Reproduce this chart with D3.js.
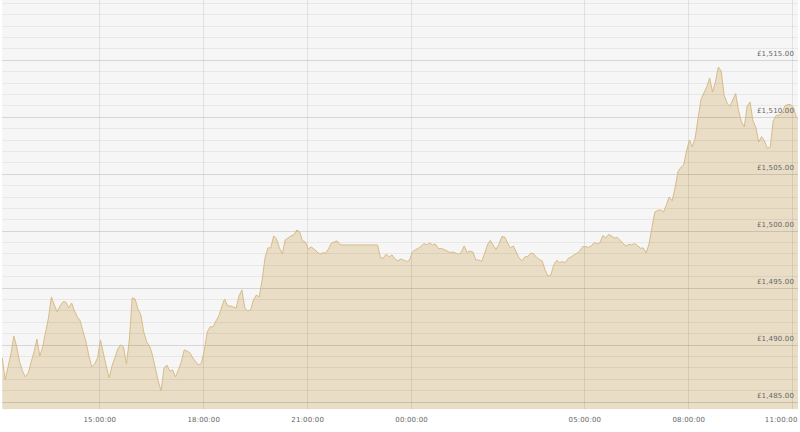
<!DOCTYPE html>
<html><head><meta charset="utf-8">
<script src="https://cdn.jsdelivr.net/npm/d3@7"></script>
<style>
body{margin:0;background:#fff}
svg{display:block}
text{font-family:"DejaVu Sans",Verdana,sans-serif;font-size:7px;fill:#666;letter-spacing:0.15px}
</style></head><body>
<svg id="chart" width="800" height="432"></svg>
<script>
// ---- data ----
const startTime = "2024-01-01T12:12:00";
const stepMinutes = 5;
const prices = [
1488.84,1486.91,1488.05,1489.19,1490.77,1489.80,1488.49,1487.70,1487.17,1487.52,
1488.49,1489.36,1490.50,1489.01,1489.80,1491.12,1492.35,1494.19,1493.49,1492.87,
1493.40,1493.75,1493.75,1493.22,1493.66,1492.96,1492.43,1492.08,1491.12,1490.24,
1489.01,1488.05,1488.31,1488.84,1490.42,1489.27,1488.13,1487.08,1488.13,1488.84,
1489.63,1489.98,1489.80,1488.31,1490.42,1494.10,1494.01,1493.13,1492.61,1491.12,
1490.24,1489.89,1489.10,1487.96,1486.82,1485.94,1487.96,1488.22,1487.70,1487.78,
1487.17,1487.78,1488.49,1489.54,1489.45,1489.27,1488.84,1488.49,1488.22,1488.40,
1489.54,1491.12,1491.56,1491.56,1492.08,1492.52,1493.31,1494.01,1493.40,1493.40,
1493.31,1493.22,1494.27,1494.80,1493.22,1492.96,1493.05,1493.92,1494.36,1494.19,
1495.68,1497.61,1498.49,1498.49,1499.54,1499.27,1498.49,1497.96,1499.19,1499.36,
1499.54,1499.63,1500.06,1499.89,1499.10,1499.01,1498.40,1498.57,1498.40,1498.13,
1497.96,1498.05,1498.05,1498.40,1498.92,1499.01,1499.10,1498.75,1498.75,1498.75,
1498.75,1498.75,1498.75,1498.75,1498.75,1498.75,1498.75,1498.75,1498.75,1498.75,
1498.75,1497.61,1497.61,1497.96,1497.70,1497.87,1497.52,1497.35,1497.52,1497.43,
1497.30,1497.39,1498.13,1498.31,1498.44,1498.62,1498.88,1498.75,1498.92,1498.75,
1498.84,1498.44,1498.44,1498.35,1498.22,1498.09,1498.13,1498.05,1497.92,1498.13,
1498.66,1498.09,1498.22,1498.13,1497.43,1497.43,1497.30,1497.96,1498.75,1499.14,
1498.75,1498.35,1498.79,1499.48,1499.45,1498.92,1498.49,1498.66,1498.13,1497.61,
1497.35,1497.70,1497.74,1498.02,1498.00,1497.67,1497.48,1497.35,1496.56,1496.03,
1496.12,1496.99,1497.39,1497.21,1497.28,1497.21,1497.56,1497.70,1497.87,1498.02,
1498.22,1498.60,1498.62,1498.53,1498.66,1498.97,1498.84,1498.95,1499.58,1499.36,
1499.67,1499.54,1499.36,1499.41,1499.16,1498.88,1498.66,1498.81,1498.75,1498.88,
1498.70,1498.46,1498.49,1498.05,1498.84,1500.24,1501.64,1501.78,1501.82,1501.64,
1502.26,1502.96,1502.61,1503.75,1505.15,1505.55,1505.77,1506.99,1507.96,1507.35,
1508.13,1509.89,1511.51,1512.08,1512.61,1513.40,1512.17,1513.05,1514.36,1514.01,
1511.91,1511.20,1510.90,1511.47,1512.04,1510.55,1509.54,1509.10,1510.94,1511.29,
1509.63,1509.06,1507.78,1508.25,1507.87,1507.21,1507.35,1509.63,1510.11,1510.15,
1510.28,1510.94,1511.07,1511.07,1510.85,1509.98,1509.71
];
const xDomain = ["2024-01-01T12:11:30", "2024-01-02T11:10:00"];
const xTickTimes = ["2024-01-01T15:00:00","2024-01-01T18:00:00","2024-01-01T21:00:00",
  "2024-01-02T00:00:00","2024-01-02T05:00:00","2024-01-02T08:00:00","2024-01-02T11:00:00"];
const yDomain = [1484.33, 1520.24];
const yTickValues = [1485, 1490, 1495, 1500, 1505, 1510, 1515];
const yMinorStep = 1;

// ---- layout ----
const plot = {left: 2, right: 798, top: 0, bottom: 409.3};
const parse = d3.timeParse("%Y-%m-%dT%H:%M:%S");
const t0 = parse(startTime);
const data = prices.map((v, i) => ({t: d3.timeMinute.offset(t0, i * stepMinutes), v}));

const x = d3.scaleTime().domain(xDomain.map(parse)).range([plot.left, plot.right]);
const y = d3.scaleLinear().domain(yDomain).range([plot.bottom, plot.top]);

const svg = d3.select("#chart");
svg.append("defs").append("clipPath").attr("id", "clip")
  .append("rect").attr("x", plot.left).attr("y", plot.top)
  .attr("width", plot.right - plot.left).attr("height", plot.bottom - plot.top);

svg.append("rect").attr("x", plot.left).attr("y", plot.top)
  .attr("width", plot.right - plot.left).attr("height", plot.bottom - plot.top)
  .attr("fill", "#f6f6f6");

const g = svg.append("g").attr("clip-path", "url(#clip)");

g.append("path").datum(data)
  .attr("fill", "#e9ddc5")
  .attr("d", d3.area().x(d => x(d.t)).y0(plot.bottom).y1(d => y(d.v)));

// horizontal gridlines
const minor = d3.range(Math.ceil(yDomain[0]), Math.floor(yDomain[1]) + 1, yMinorStep);
g.selectAll("line.hg").data(minor).join("line").attr("class", "hg")
  .attr("x1", plot.left).attr("x2", plot.right)
  .attr("y1", d => Math.round(y(d)) + 0.5).attr("y2", d => Math.round(y(d)) + 0.5)
  .attr("stroke", d => yTickValues.includes(d) ? "rgba(0,0,0,0.13)" : "rgba(0,0,0,0.055)")
  .attr("stroke-width", 1);

// vertical gridlines
const xTicks = xTickTimes.map(parse);
g.selectAll("line.vg").data(xTicks).join("line").attr("class", "vg")
  .attr("x1", d => Math.round(x(d)) + 0.5).attr("x2", d => Math.round(x(d)) + 0.5)
  .attr("y1", plot.top).attr("y2", plot.bottom)
  .attr("stroke", "rgba(0,0,0,0.08)");

g.append("path").datum(data)
  .attr("fill", "none").attr("stroke", "#d7bb88").attr("stroke-width", 1)
  .attr("stroke-linejoin", "round")
  .attr("d", d3.line().x(d => x(d.t)).y(d => y(d.v)));

// y labels
const money = d3.format(",.2f");
svg.append("g").selectAll("text").data(yTickValues).join("text")
  .attr("x", 794).attr("y", d => y(d) - 3.5)
  .attr("text-anchor", "end")
  .text(d => "£" + money(d));

// x axis
const xAxis = d3.axisBottom(x).tickValues(xTicks).tickFormat(d3.timeFormat("%H:%M:%S"))
  .tickSize(0).tickPadding(0);
const xa = svg.append("g").attr("transform", `translate(0,${plot.bottom})`).call(xAxis);
xa.select(".domain").remove();
xa.selectAll("text").attr("y", 13.2).attr("dy", null).attr("fill", null);
xa.attr("font-size", null).attr("font-family", null);
xa.selectAll(".tick").each(function(d) {
  const t = d3.select(this).select("text");
  const w = this.getBBox().width;
  if (x(d) + w / 2 > 797) t.attr("text-anchor", "end").attr("x", 797 - x(d));
});
</script>
</body></html>
